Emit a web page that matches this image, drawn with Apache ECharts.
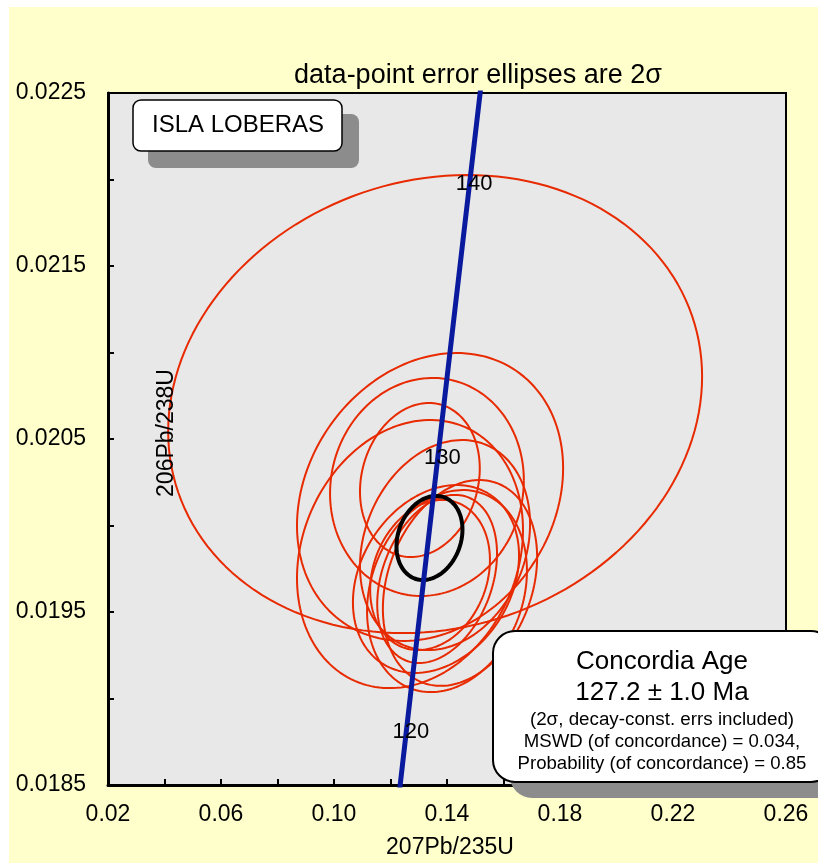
<!DOCTYPE html>
<html><head><meta charset="utf-8">
<script src="https://cdn.jsdelivr.net/npm/echarts@6/dist/echarts.min.js"></script>
<style>
html,body{margin:0;padding:0;background:#fff;}
#wrap{position:relative;width:818px;height:863px;background:#fff;overflow:hidden;}
#yel{position:absolute;left:9px;top:7px;width:809px;height:856px;background:#FFFFCC;}
#chart{position:absolute;left:0;top:0;width:818px;height:863px;}
</style></head><body>
<div id="wrap"><div id="yel"></div><div id="chart"></div></div>
<script>
// ---- data ----
// data-point error ellipses: centre 207Pb/235U, centre 206Pb/238U, 2-sigma errors, error correlation
const ellX    = [0.1358, 0.1340, 0.1329, 0.1304, 0.1269, 0.1393, 0.1361, 0.1400, 0.1365, 0.1446, 0.1340];
const ellY    = [0.020702, 0.020165, 0.020223, 0.020263, 0.019835, 0.019887, 0.019691, 0.019621, 0.019691, 0.019668, 0.019714];
const ellErrX = [0.0945, 0.0471, 0.0343, 0.0212, 0.0400, 0.0301, 0.0294, 0.0283, 0.0212, 0.0273, 0.0212];
const ellErrY = [0.001324, 0.000832, 0.000630, 0.000445, 0.000775, 0.000607, 0.000543, 0.000584, 0.000486, 0.000595, 0.000434];
const ellRho  = [0.12, 0.20, 0.06, 0.15, 0.18, 0.20, 0.25, 0.20, 0.30, 0.25, 0.20];

// concordia age ellipse
const meanX = 0.1338, meanY = 0.019928, meanErrX = 0.01168, meanErrY = 0.000243, meanRho = 0.2;

// concordia curve (age in Ma, 207Pb/235U, 206Pb/238U)
const concAge = [118, 120, 125, 130, 135, 140, 145];
const concX   = [0.12323, 0.12545, 0.13100, 0.13659, 0.14220, 0.14784, 0.15350];
const concY   = [0.018473, 0.018789, 0.019580, 0.020371, 0.021163, 0.021955, 0.022748];
const labelAges = [120, 130, 140];

// axes
const xMin = 0.02, xMax = 0.26, xStep = 0.02;
const yMin = 0.0185, yMax = 0.0225, yStep = 0.0005;

const titleText = 'data-point error ellipses are 2\u03C3';
const sampleName = 'ISLA LOBERAS';
const boxLines = ['Concordia Age', '127.2 \u00B1 1.0 Ma', '(2\u03C3, decay-const. errs included)',
  'MSWD (of concordance) = 0.034,', 'Probability (of concordance) = 0.85'];

// ---- build ----
const FONT = "'Liberation Sans', Arial, Helvetica, sans-serif";
function ellipsePts(cx, cy, ex, ey, rho) {
  const pts = [], n = 160, s = Math.sqrt(1 - rho * rho);
  for (let i = 0; i <= n; i++) {
    const t = 2 * Math.PI * i / n;
    pts.push([cx + ex * Math.cos(t), cy + ey * (rho * Math.cos(t) + s * Math.sin(t))]);
  }
  return pts;
}
const series = [];
for (let i = 0; i < ellX.length; i++) {
  series.push({type: 'line', data: ellipsePts(ellX[i], ellY[i], ellErrX[i], ellErrY[i], ellRho[i]),
    showSymbol: false, symbol: 'none', silent: true, z: 2,
    lineStyle: {color: '#E82A00', width: 2}});
}
series.push({type: 'line', data: ellipsePts(meanX, meanY, meanErrX, meanErrY, meanRho),
  showSymbol: false, symbol: 'none', silent: true, z: 3,
  lineStyle: {color: '#000', width: 4}});
series.push({type: 'line', data: concAge.map((a, i) => [concX[i], concY[i]]),
  showSymbol: false, symbol: 'none', silent: true, z: 4,
  lineStyle: {color: '#0A1A9E', width: 5}});
series.push({type: 'scatter', symbolSize: 1, silent: true, z: 6,
  itemStyle: {opacity: 1, color: 'rgba(0,0,0,0)'},
  data: labelAges.map(a => { const i = concAge.indexOf(a); return [concX[i], concY[i], a]; }),
  label: {show: true, position: 'inside', offset: [5, -3], formatter: p => String(p.value[2]),
    fontSize: 22, fontFamily: FONT, color: '#000', opacity: 1, textBorderWidth: 0}});

const chart = echarts.init(document.getElementById('chart'), null, {renderer: 'canvas'});
chart.setOption({
  animation: false,
  backgroundColor: 'transparent',
  grid: {left: 108, right: 32, top: 93, bottom: 78, show: true, backgroundColor: '#E8E8E8',
    borderColor: '#000', borderWidth: 2},
  xAxis: {type: 'value', min: xMin, max: xMax, interval: xStep,
    axisLine: {show: true, lineStyle: {color: '#000', width: 3}},
    axisTick: {show: true, inside: true, length: 6, lineStyle: {color: '#000', width: 2}},
    axisLabel: {margin: 18, fontSize: 23, fontFamily: FONT, color: '#000', showMinLabel: true, showMaxLabel: true,
      formatter: v => (Math.round(v / xStep) % 2 === 1 ? v.toFixed(2) : '')},
    splitLine: {show: false}},
  yAxis: {type: 'value', min: yMin, max: yMax, interval: yStep,
    axisLine: {show: true, lineStyle: {color: '#000', width: 3}},
    axisTick: {show: true, inside: true, length: 6, lineStyle: {color: '#000', width: 2}},
    axisLabel: {margin: 22, fontSize: 23, fontFamily: FONT, color: '#000', showMinLabel: true, showMaxLabel: true,
      formatter: v => (Math.round(v / yStep) % 2 === 1 ? v.toFixed(4) : '')},
    splitLine: {show: false}},
  series: series,
  graphic: [
    {type: 'text', x: 478, y: 76, z: 50, style: {text: titleText, fontSize: 27, fontFamily: FONT, fill: '#000',
      textAlign: 'center', textVerticalAlign: 'middle'}},
    {type: 'text', x: 450, y: 848, z: 50, style: {text: '207Pb/235U', fontSize: 23, fontFamily: FONT, fill: '#000',
      textAlign: 'center', textVerticalAlign: 'middle'}},
    {type: 'text', x: 167, y: 433, rotation: Math.PI / 2, z: 50, style: {text: '206Pb/238U', fontSize: 23, fontFamily: FONT, fill: '#000',
      textAlign: 'center', textVerticalAlign: 'middle'}},
    {type: 'rect', z: 60, shape: {x: 148, y: 114, width: 211, height: 54, r: 8}, style: {fill: '#8C8C8C'}},
    {type: 'rect', z: 61, shape: {x: 133, y: 100, width: 209, height: 51, r: 8}, style: {fill: '#fff', stroke: '#000', lineWidth: 1.5}},
    {type: 'text', x: 238, y: 125, z: 62, style: {text: sampleName, fontSize: 24, fontFamily: FONT, fill: '#000',
      textAlign: 'center', textVerticalAlign: 'middle'}},
    {type: 'rect', z: 60, shape: {x: 510, y: 647, width: 340, height: 151, r: 22}, style: {fill: '#8C8C8C'}},
    {type: 'rect', z: 61, shape: {x: 493, y: 631, width: 340, height: 151, r: 22}, style: {fill: '#fff', stroke: '#000', lineWidth: 2}},
    {type: 'text', x: 662, y: 662, z: 62, style: {text: boxLines[0], fontSize: 26, fontFamily: FONT, fill: '#000', textAlign: 'center', textVerticalAlign: 'middle'}},
    {type: 'text', x: 662, y: 693, z: 62, style: {text: boxLines[1], fontSize: 26, fontFamily: FONT, fill: '#000', textAlign: 'center', textVerticalAlign: 'middle'}},
    {type: 'text', x: 662, y: 720, z: 62, style: {text: boxLines[2], fontSize: 18.8, fontFamily: FONT, fill: '#000', textAlign: 'center', textVerticalAlign: 'middle'}},
    {type: 'text', x: 662, y: 742, z: 62, style: {text: boxLines[3], fontSize: 18.6, fontFamily: FONT, fill: '#000', textAlign: 'center', textVerticalAlign: 'middle'}},
    {type: 'text', x: 662, y: 764, z: 62, style: {text: boxLines[4], fontSize: 18.6, fontFamily: FONT, fill: '#000', textAlign: 'center', textVerticalAlign: 'middle'}}
  ]
});
</script>
</body></html>
